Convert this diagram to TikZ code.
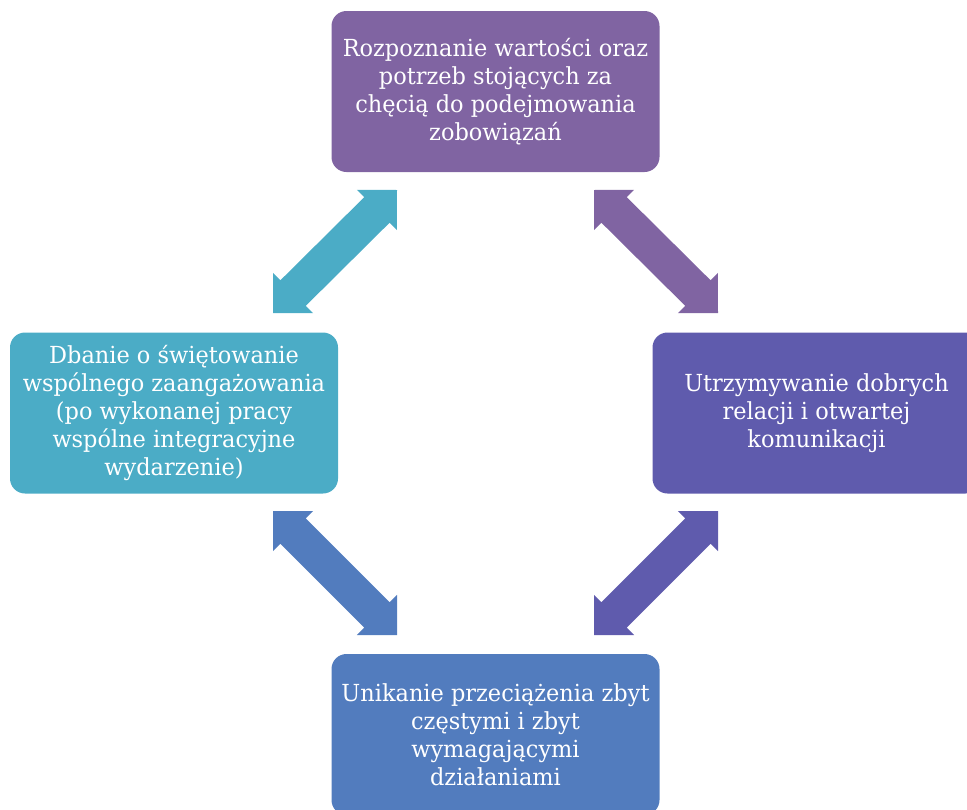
\documentclass[tikz,border=0pt]{standalone}
\usepackage{fontspec}
\setmainfont{DejaVu Serif}[FakeStretch=0.955]
\usetikzlibrary{calc}
\definecolor{cTop}{HTML}{8064A2}
\definecolor{cRight}{HTML}{5F5BAD}
\definecolor{cBottom}{HTML}{527CBE}
\definecolor{cLeft}{HTML}{4BACC6}
\tikzset{
  box/.style={rounded corners=15pt, minimum width=328pt, minimum height=161pt,
    inner sep=0pt, text=white, align=center,
    font=\fontsize{23.5}{28}\selectfont},
}
\newcommand\hl{28.3pt}
\newcommand\hw{28.3pt}
\newcommand\sw{18pt}
\newcommand\blockarrow[3]{%
  \fill[#1] (#2)
    -- ($(#2)!\hl!(#3)!\hw!90:(#3)$)
    -- ($(#2)!\hl!(#3)!\sw!90:(#3)$)
    -- ($(#3)!\hl!(#2)!\sw!-90:(#2)$)
    -- ($(#3)!\hl!(#2)!\hw!-90:(#2)$)
    -- (#3)
    -- ($(#3)!\hl!(#2)!\hw!90:(#2)$)
    -- ($(#3)!\hl!(#2)!\sw!90:(#2)$)
    -- ($(#2)!\hl!(#3)!\sw!-90:(#3)$)
    -- ($(#2)!\hl!(#3)!\hw!-90:(#3)$)
    -- cycle;}
\begin{document}
\begin{tikzpicture}[x=1pt,y=-1pt]
\useasboundingbox (0,0) rectangle (967,809);
\clip (0,0) rectangle (967,809);
\node[box, fill=cTop] (top) at (495.5,91.5)
  {Rozpoznanie wartości oraz\\potrzeb stojących za\\chęcią do podejmowania\\zobowiązań};
\node[box, fill=cRight] (right) at (816.5,413)
  {Utrzymywanie dobrych\\relacji i otwartej\\komunikacji};
\node[box, fill=cBottom] (bottom) at (495.5,734.5)
  {Unikanie przeciążenia zbyt\\częstymi i zbyt\\wymagającymi\\działaniami};
\node[box, fill=cLeft] (left) at (174,413)
  {Dbanie o świętowanie\\wspólnego zaangażowania\\(po wykonanej pracy\\wspólne integracyjne\\wydarzenie)};
\coordinate (tlA) at (397,190);
\coordinate (tlB) at (273,313);
\coordinate (trA) at (594,190);
\coordinate (trB) at (718,313);
\coordinate (blA) at (273,511);
\coordinate (blB) at (397,635);
\coordinate (brA) at (718,511);
\coordinate (brB) at (594,635);
\blockarrow{cLeft}{tlA}{tlB}
\blockarrow{cTop}{trA}{trB}
\blockarrow{cBottom}{blA}{blB}
\blockarrow{cRight}{brA}{brB}
\end{tikzpicture}
\end{document}
